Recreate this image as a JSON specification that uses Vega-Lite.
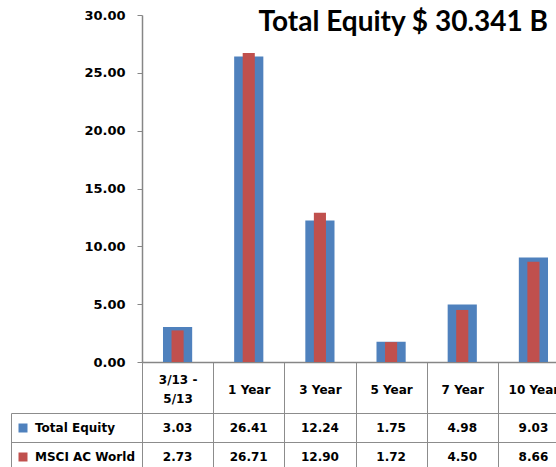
{
  "$schema": "https://vega.github.io/schema/vega-lite/v6.json",
  "width": 414,
  "height": 347,
  "autosize": {"type": "none"},
  "padding": {"left": 142, "top": 15, "right": 0, "bottom": 105},
  "background": "white",
  "config": {"view": {"stroke": null}},
  "title": {
    "text": "Total Equity $ 30.341 B",
    "anchor": "end",
    "frame": "group",
    "font": "Lato",
    "fontSize": 28,
    "fontWeight": "bold",
    "color": "black",
    "baseline": "alphabetic",
    "offset": -50,
    "dx": -8
  },
  "data": {
    "values": [
      {"period": "3/13 - 5/13", "series": "Total Equity", "value": 3.03},
      {"period": "1 Year", "series": "Total Equity", "value": 26.41},
      {"period": "3 Year", "series": "Total Equity", "value": 12.24},
      {"period": "5 Year", "series": "Total Equity", "value": 1.75},
      {"period": "7 Year", "series": "Total Equity", "value": 4.98},
      {"period": "10 Year", "series": "Total Equity", "value": 9.03},
      {"period": "3/13 - 5/13", "series": "MSCI AC World", "value": 2.73},
      {"period": "1 Year", "series": "MSCI AC World", "value": 26.71},
      {"period": "3 Year", "series": "MSCI AC World", "value": 12.90},
      {"period": "5 Year", "series": "MSCI AC World", "value": 1.72},
      {"period": "7 Year", "series": "MSCI AC World", "value": 4.50},
      {"period": "10 Year", "series": "MSCI AC World", "value": 8.66}
    ]
  },
  "encoding": {
    "x": {
      "field": "period",
      "type": "nominal",
      "sort": ["3/13 - 5/13", "1 Year", "3 Year", "5 Year", "7 Year", "10 Year"],
      "scale": {
        "type": "band",
        "domain": ["3/13 - 5/13", "1 Year", "3 Year", "5 Year", "7 Year", "10 Year"],
        "range": [0, 427],
        "paddingInner": 0,
        "paddingOuter": 0
      },
      "axis": {
        "title": null,
        "orient": "bottom",
        "labelAngle": 0,
        "labelExpr": "datum.value == '3/13 - 5/13' ? ['3/13 -', '5/13'] : datum.label",
        "labelFont": "DejaVu Sans",
        "labelFontSize": 12,
        "labelFontWeight": "bold",
        "labelColor": "black",
        "labelBaseline": "middle",
        "labelLineHeight": 19,
        "labelPadding": {"condition": {"test": "datum.value == '3/13 - 5/13'", "value": -87.5}, "value": -78},
        "labelOverlap": false,
        "labelBound": false,
        "tickBand": "extent",
        "tickSize": 105,
        "tickColor": "#8C8C8C",
        "domainColor": "#868686",
        "domainWidth": 1.5,
        "grid": false
      }
    }
  },
  "layer": [
    {
      "transform": [{"filter": "datum.series == 'Total Equity'"}],
      "mark": {"type": "bar", "width": {"band": 0.41}},
      "encoding": {
        "y": {
          "field": "value",
          "type": "quantitative",
          "scale": {"domain": [0, 30]},
          "axis": {
            "title": null,
            "values": [0, 5, 10, 15, 20, 25, 30],
            "format": ".2f",
            "labelFont": "DejaVu Sans",
            "labelFontSize": 13,
            "labelFontWeight": "bold",
            "labelColor": "black",
            "labelPadding": 12,
            "tickSize": 5,
            "tickColor": "#868686",
            "domainColor": "#868686",
            "domainWidth": 1.5,
            "grid": false
          }
        },
        "color": {
          "field": "series",
          "type": "nominal",
          "scale": {"domain": ["Total Equity", "MSCI AC World"], "range": ["#4F81BD", "#C0504D"]},
          "legend": {
            "orient": "none",
            "legendX": -125,
            "legendY": 407,
            "direction": "vertical",
            "title": null,
            "padding": 0,
            "symbolType": "square",
            "symbolSize": 81,
            "symbolStrokeWidth": 0,
            "labelFont": "DejaVu Sans",
            "labelFontSize": 12,
            "labelFontWeight": "bold",
            "labelColor": "black",
            "labelOffset": 6,
            "rowPadding": 17
          }
        }
      }
    },
    {
      "transform": [{"filter": "datum.series == 'MSCI AC World'"}],
      "mark": {"type": "bar", "width": {"band": 0.17}},
      "encoding": {
        "y": {"field": "value", "type": "quantitative", "scale": {"domain": [0, 30]}, "axis": null},
        "color": {"field": "series", "type": "nominal"}
      }
    },
    {
      "mark": {"type": "text", "font": "DejaVu Sans", "fontSize": 12, "fontWeight": "bold", "baseline": "middle", "color": "black"},
      "encoding": {
        "y": {
          "field": "series",
          "type": "nominal",
          "scale": {"type": "band", "domain": ["Total Equity", "MSCI AC World"], "range": [398, 456], "paddingInner": 0, "paddingOuter": 0},
          "axis": {
            "orient": "left",
            "title": null,
            "labels": false,
            "domain": false,
            "ticks": true,
            "tickBand": "extent",
            "tickSize": 131,
            "tickColor": "#8C8C8C",
            "grid": true,
            "gridColor": "#8C8C8C",
            "gridOpacity": 1
          }
        },
        "text": {"field": "value", "type": "quantitative", "format": ".2f"}
      }
    },
    {
      "mark": {"type": "text", "text": ""},
      "encoding": {
        "y": {
          "field": "series",
          "type": "nominal",
          "scale": {"type": "band", "domain": ["Total Equity", "MSCI AC World"], "range": [398, 456], "paddingInner": 0, "paddingOuter": 0},
          "axis": {
            "orient": "left",
            "title": null,
            "labels": false,
            "ticks": false,
            "grid": false,
            "domain": true,
            "domainColor": "#8C8C8C",
            "offset": 131
          }
        }
      }
    }
  ],
  "resolve": {"scale": {"y": "independent"}}
}
